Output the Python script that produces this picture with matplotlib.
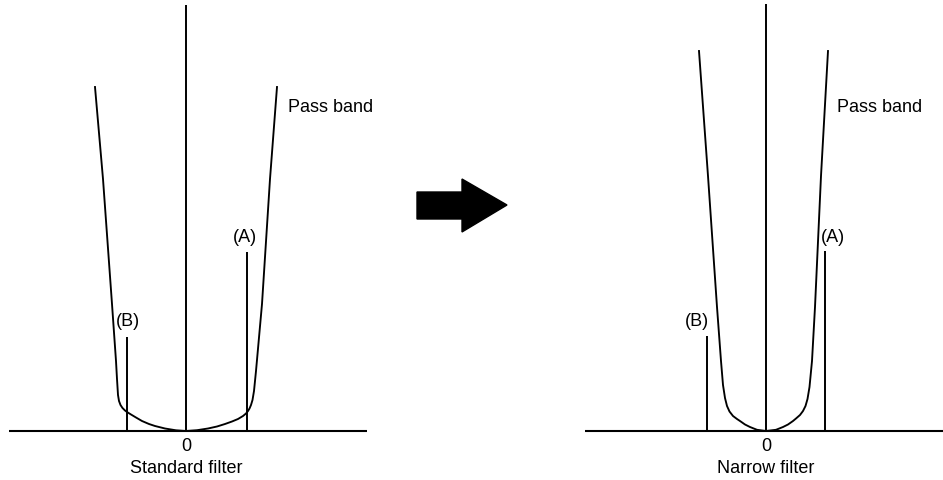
import matplotlib
matplotlib.use("Agg")
import matplotlib.pyplot as plt
from matplotlib.patches import Polygon

plt.rcParams["font.family"] = ["Liberation Sans", "DejaVu Sans"]

# ---------------------------------------------------------------
# Data (offset from centre frequency, response height)
# ---------------------------------------------------------------
std_curve_x = [-91, -83, -74, -70, -69, -68, -67, -65.5, -63.5, -61, -59, -55,
               -50, -44, -37, -31, -21, -10, 0,
               11, 22, 31, 39, 46, 52, 57, 60, 62, 63.5, 65, 66.5, 68, 70,
               76, 84, 91]
std_curve_y = [344, 252, 127, 70, 52, 36, 30, 26, 23, 20.5, 19, 16.5,
               13.5, 10, 7, 5, 2.5, 0.7, 0,
               0.8, 2.5, 4.5, 7, 9.5, 12, 15, 17.5, 20, 22.5, 26, 31, 40, 60,
               127, 252, 344]

nar_curve_x = [-67, -58, -49, -45, -43, -41, -39, -36.5, -33, -29, -26, -21,
               -16, -9, 0,
               10, 17, 22, 27, 30, 34, 37, 39.5, 41.5, 43.5, 46, 49, 55, 62]
nar_curve_y = [380, 255, 124, 70, 46, 33, 25, 19.5, 15, 12, 10, 6.5,
               4, 1.2, 0,
               1.2, 4, 6.5, 10, 12.5, 16, 20, 25, 32, 44, 70, 124, 255, 380]

# signal lines: centre, (B), (A)
std_sig_x = [0, -59, 61]
std_sig_h = [426, 94, 179]
nar_sig_x = [0, -59, 59]
nar_sig_h = [427, 95, 180]
sig_labels = ["", "(B)", "(A)"]

captions = ["Standard filter", "Narrow filter"]

# ---------------------------------------------------------------
W, H = 943, 481
fig = plt.figure(figsize=(W / 100, H / 100), dpi=100)
fig.patch.set_facecolor("white")

FS = 13


def panel(left_px, xlim, cx, cy, sx, sh, caption, lab_pos, pass_x):
    ax = fig.add_axes([left_px / W, (H - 432) / H, 358 / W, 432 / H])
    ax.set_xlim(*xlim)
    ax.set_ylim(0, 432)
    ax.axis("off")
    # baseline
    ax.plot(xlim, [0, 0], color="black", lw=1.5, clip_on=False,
            solid_capstyle="butt")
    # filter response
    ax.plot(cx, cy, color="black", lw=1.35, clip_on=False,
            solid_joinstyle="round")
    # signal lines
    for x, h in zip(sx, sh):
        ax.plot([x, x], [0, h], color="black", lw=1.4, clip_on=False,
                solid_capstyle="butt")
    for (lx, ly, ha), lab in zip(lab_pos, sig_labels[1:]):
        ax.text(lx, ly, lab, ha=ha, va="center", fontsize=FS)
    ax.text(pass_x, 324, "Pass band", ha="left", va="center", fontsize=FS)
    ax.text(0, -15, "0", ha="center", va="center", fontsize=FS)
    ax.text(0, -37, caption, ha="center", va="center", fontsize=FS)
    return ax


panel(9, (-177, 181), std_curve_x, std_curve_y, std_sig_x, std_sig_h,
      captions[0], [(-58, 110, "center"), (59, 194, "center")], 102)
panel(585, (-181, 177), nar_curve_x, nar_curve_y, nar_sig_x, nar_sig_h,
      captions[1], [(-69, 110, "center"), (55, 195, "left")], 71)

# big block arrow between the panels
pts = [(417, 193), (462, 193), (462, 180), (507, 206),
       (462, 233), (462, 220), (417, 220)]
arrow = Polygon([(x / W, 1 - y / H) for x, y in pts], closed=True,
                transform=fig.transFigure, facecolor="black",
                edgecolor="black")
fig.patches.append(arrow)

fig.savefig("out.png", dpi=100, facecolor="white")
